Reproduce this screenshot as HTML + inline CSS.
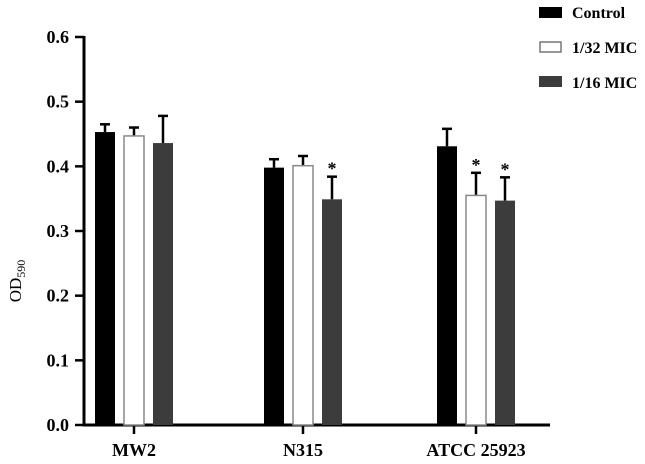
<!DOCTYPE html>
<html><head><meta charset="utf-8"><style>
body{margin:0;background:#fff;}
svg{display:block;font-family:"Liberation Serif",serif;}
</style></head><body>
<svg id="chart" width="645" height="464" viewBox="0 0 645 464" xmlns="http://www.w3.org/2000/svg">
<g id="legend">
  <g><rect x="539" y="7" width="23" height="11" fill="#000"/><text x="572" y="18" font-size="16" font-weight="bold">Control</text></g>
  <g><rect x="540" y="42" width="21" height="10" fill="#fff" stroke="#777" stroke-width="1.5"/><text x="572" y="53" font-size="16" font-weight="bold">1/32 MIC</text></g>
  <g><rect x="539" y="76" width="23" height="11" fill="#3c3c3c"/><text x="572" y="88" font-size="16" font-weight="bold">1/16 MIC</text></g>
</g>
<text transform="translate(21,281) rotate(-90)" text-anchor="middle" font-size="17">OD<tspan font-size="12" dy="4">590</tspan></text>
<g id="axes"></g>
<g id="bars"></g>
</svg>
<script>
const categories = ["MW2", "N315", "ATCC 25923"];
const seriesNames = ["Control", "1/32 MIC", "1/16 MIC"];
const controlVals = [0.453, 0.398, 0.431];
const mic32Vals = [0.447, 0.401, 0.355];
const mic16Vals = [0.436, 0.349, 0.347];
const controlErr = [0.012, 0.013, 0.027];
const mic32Err = [0.013, 0.015, 0.035];
const mic16Err = [0.042, 0.035, 0.036];
const mic32Sig = [false, false, true];
const mic16Sig = [false, true, true];
const yTicks = [0.0, 0.1, 0.2, 0.3, 0.4, 0.5, 0.6];

const NS = "http://www.w3.org/2000/svg";
const y0 = 425, yTop = 37, yMax = 0.6;
function yScale(v){ return y0 - (v / yMax) * (y0 - yTop); }
const groupCenters = [134, 303, 476];
function xScale(i){ return groupCenters[i]; }
const offsets = [-29, 0, 29], barW = 20;
function mk(tag, attrs, parent){ const e=document.createElementNS(NS,tag); for(const k in attrs) e.setAttribute(k, attrs[k]); parent.appendChild(e); return e; }

const axes = document.getElementById('axes');
const yAxis = mk('line',{x1:84,y1:yScale(yMax)-1,x2:84,y2:y0+1.5,stroke:'#000','stroke-width':3},axes);


const xAxis = mk('line',{x1:83,y1:y0,x2:550,y2:y0,stroke:'#000','stroke-width':3},axes);


yTicks.forEach(t=>{
  const y=yScale(t);
  const tk=mk('line',{x1:75,y1:y,x2:84,y2:y,stroke:'#000','stroke-width':2.5},axes);
  
  
  const lb=mk('text',{x:69,y:y+6,'text-anchor':'end','font-size':18,'font-weight':'bold'},axes);
  lb.textContent=t.toFixed(1);
  
  
});
categories.forEach((c,i)=>{
  const x=xScale(i);
  const tk=mk('line',{x1:x,y1:y0,x2:x,y2:y0+9,stroke:'#000','stroke-width':2.5},axes);
  
  
  const lb=mk('text',{x:x,y:456,'text-anchor':'middle','font-size':18,'font-weight':'bold'},axes);
  lb.textContent=c;
  
  
});

const bars = document.getElementById('bars');
const series = [
  {vals:controlVals, err:controlErr, sig:[false,false,false], fill:'#000', stroke:'none'},
  {vals:mic32Vals, err:mic32Err, sig:mic32Sig, fill:'#fff', stroke:'#888'},
  {vals:mic16Vals, err:mic16Err, sig:mic16Sig, fill:'#3c3c3c', stroke:'none'}
];
series.forEach((s,si)=>{
  s.vals.forEach((v,i)=>{
    const cx=xScale(i)+offsets[si];
    const yv=yScale(v);
    const ye=yScale(v+s.err[i]);
    const el=mk('line',{x1:cx,y1:yv,x2:cx,y2:ye,stroke:'#000','stroke-width':2.5},bars);
    
    
    const cap=mk('line',{x1:cx-5,y1:ye,x2:cx+5,y2:ye,stroke:'#000','stroke-width':2.5},bars);
    
    
    const r=mk('rect',{x:cx-barW/2,y:yv,width:barW,height:y0-yv,fill:s.fill,stroke:s.stroke,'stroke-width':s.stroke==='none'?0:1.5},bars);
    
    
    if(s.sig[i]){
      const st=mk('text',{x:cx,y:ye-2,'text-anchor':'middle','font-size':18,'font-weight':'bold'},bars);
      st.textContent='*';
      
      
    }
  });
});
</script>
</body></html>
